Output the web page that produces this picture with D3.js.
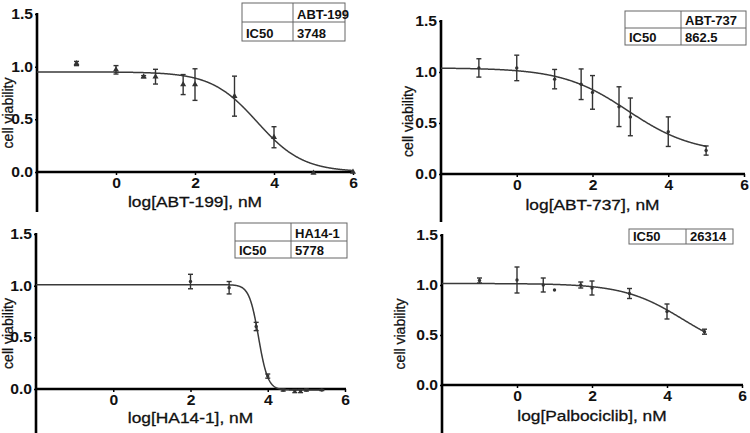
<!DOCTYPE html>
<html><head><meta charset="utf-8">
<script src="https://cdn.jsdelivr.net/npm/d3@7/dist/d3.min.js"></script>
<style>
body{margin:0;background:#fff}
svg{display:block}
text{font-family:"Liberation Sans",Arial,Helvetica,sans-serif;fill:#111}
</style>
</head><body>
<svg id="chart" width="750" height="433"></svg>
<script>
// ---------------- data ----------------
const xTicks = [0, 2, 4, 6];
const yTicks = [0, 0.5, 1.0, 1.5];
const yTickLabels = ["0.0", "0.5", "1.0", "1.5"];
const xDomain = [-2, 6];

// ABT-199
const abt199Dose = [-1, 0, 0.7, 1, 1.7, 2, 3, 4, 5, 6];
const abt199Mean = [1.03, 0.97, 0.905, 0.905, 0.83, 0.83, 0.72, 0.33, -0.01, 0.0];
const abt199Err  = [0.02, 0.04, 0.01, 0.07, 0.095, 0.15, 0.19, 0.10, 0, 0];
const abt199Fit  = [0.95, 0.0, 3.574, 0.75];   // top, bottom, logIC50, hill
const abt199Table = [["", "ABT-199"], ["IC50", "3748"]];

// ABT-737
const abt737Dose = [-1, 0, 1, 1.7, 2, 2.7, 3, 4, 5];
const abt737Mean = [1.04, 1.04, 0.93, 0.88, 0.80, 0.66, 0.56, 0.415, 0.23];
const abt737Err  = [0.09, 0.125, 0.095, 0.15, 0.165, 0.195, 0.185, 0.145, 0.045];
const abt737Fit  = [1.04, 0.2, 2.936, 0.5];
const abt737Table = [["", "ABT-737"], ["IC50", "862.5"]];

// HA14-1
const ha141Dose = [2, 3, 3.7, 4, 4.4, 4.7, 4.85, 5.0, 5.4];
const ha141Mean = [1.04, 0.98, 0.605, 0.125, -0.01, -0.02, -0.02, -0.01, -0.01];
const ha141Err  = [0.07, 0.06, 0.04, 0.02, 0.01, 0.015, 0.015, 0.01, 0.005];
const ha141Fit  = [1.01, -0.01, 3.762, 3.6];
const ha141Table = [["", "HA14-1"], ["IC50", "5778"]];

// Palbociclib
const palboDose = [-1, 0, 0.7, 1, 1.7, 2, 3, 4, 5];
const palboMean = [1.045, 1.05, 1.0, 0.95, 1.0, 0.97, 0.915, 0.735, 0.533];
const palboErr  = [0.025, 0.13, 0.07, 0, 0.03, 0.07, 0.05, 0.075, 0.025];
const palboFit  = [1.015, 0.3, 4.42, 0.55];
const palboTable = [["IC50", "26314"]];

// ---------------- layout ----------------
const panels = [
  {dose: abt199Dose, mean: abt199Mean, err: abt199Err, fit: abt199Fit, table: abt199Table,
   label: "log[ABT-199], nM", marker: "triangle", curveTo: 6,
   left: 37, right: 353, top: 14, zero: 172, axisBottom: 212, xLabelDy: 35, yLabelDx: 24,
   tab: {left: 242, top: 3, right: 345, split: 293, rows: [22, 41]}},
  {dose: abt737Dose, mean: abt737Mean, err: abt737Err, fit: abt737Fit, table: abt737Table,
   label: "log[ABT-737], nM", marker: "circle", curveTo: 5,
   left: 441, right: 744, top: 21, zero: 174, axisBottom: 222, xLabelDy: 36, yLabelDx: 28,
   tab: {left: 625, top: 11, right: 746, split: 681, rows: [28, 45]}},
  {dose: ha141Dose, mean: ha141Mean, err: ha141Err, fit: ha141Fit, table: ha141Table,
   label: "log[HA14-1], nM", marker: "circle", curveTo: 5.4,
   left: 36, right: 345, top: 234, zero: 389, axisBottom: 433, xLabelDy: 34, yLabelDx: 23,
   tab: {left: 235, top: 223, right: 347, split: 291, rows: [241, 258]}},
  {dose: palboDose, mean: palboMean, err: palboErr, fit: palboFit, table: palboTable,
   label: "log[Palbociclib], nM", marker: "circle", curveTo: 5,
   left: 442, right: 742, top: 235, zero: 385, axisBottom: 433, xLabelDy: 36, yLabelDx: 37,
   tab: {left: 629, top: 229, right: 733, split: 686, rows: [244]}}
];

const SX = 1.12; // horizontal stretch of the original lettering
const svg = d3.select("#chart");

function drawPanel(p) {
  const g = svg.append("g");
  const x = d3.scaleLinear().domain(xDomain).range([p.left, p.right]);
  const y = d3.scaleLinear().domain([0, 1.5]).range([p.zero, p.top]);

  // y axis
  const yAxis = d3.axisLeft(y).tickValues(yTicks)
    .tickFormat((d, i) => yTickLabels[i]).tickSize(2).tickPadding(1.6).tickSizeOuter(0);
  const ya = g.append("g").attr("transform", `translate(${p.left},0)`).call(yAxis);
  ya.select(".domain").remove();
  ya.selectAll(".tick line").attr("stroke", "#000").attr("stroke-width", 1.5);
  ya.selectAll(".tick text").attr("font-size", 14).attr("font-weight", "bold")
    .attr("fill", "#111").attr("font-family", null)
    .attr("transform", `scale(${SX},1)`);
  g.append("line").attr("x1", p.left).attr("x2", p.left)
    .attr("y1", y(1.5) - 1).attr("y2", p.axisBottom)
    .attr("stroke", "#000").attr("stroke-width", 2.6);

  // x axis
  const xAxis = d3.axisBottom(x).tickValues(xTicks).tickFormat(d3.format("d"))
    .tickSize(3).tickPadding(3).tickSizeOuter(0);
  const xa = g.append("g").attr("transform", `translate(0,${p.zero})`).call(xAxis);
  xa.select(".domain").remove();
  xa.selectAll(".tick line").attr("stroke", "#000").attr("stroke-width", 1.5);
  xa.selectAll(".tick text").attr("font-size", 14).attr("font-weight", "bold")
    .attr("fill", "#111").attr("font-family", null)
    .attr("transform", `scale(${SX},1)`);
  g.append("line").attr("x1", p.left).attr("x2", x(6) + 1)
    .attr("y1", p.zero).attr("y2", p.zero)
    .attr("stroke", "#000").attr("stroke-width", 2.6);

  // axis titles
  g.append("text")
    .attr("transform", `translate(${x(2)},${p.zero + p.xLabelDy}) scale(${SX},1)`)
    .attr("text-anchor", "middle").attr("font-size", 15.5)
    .attr("stroke", "#111").attr("stroke-width", 0.3).text(p.label);
  g.append("text")
    .attr("transform", `translate(${p.left - p.yLabelDx},${(y(1.5) + p.axisBottom) / 2}) rotate(-90)`)
    .attr("text-anchor", "middle").attr("font-size", 14)
    .attr("stroke", "#111").attr("stroke-width", 0.25).text("cell viability");

  // fitted curve (4-parameter logistic from the fit parameters)
  const [T, B, c, h] = p.fit;
  const xs = d3.range(xDomain[0], p.curveTo + 1e-9, 0.01);
  const line = d3.line()
    .x(d => x(d))
    .y(d => y(B + (T - B) / (1 + Math.pow(10, (d - c) * h))));
  g.append("path").datum(xs).attr("d", line)
    .attr("fill", "none").attr("stroke", "#3a3a3a").attr("stroke-width", 1.5);

  // error bars
  const idx = d3.range(p.dose.length);
  const eb = g.append("g").attr("stroke", "#333").attr("stroke-width", 1.4);
  idx.filter(i => p.err[i] > 0).forEach(i => {
    const cx = x(p.dose[i]);
    const y1 = y(p.mean[i] + p.err[i]), y2 = y(p.mean[i] - p.err[i]);
    eb.append("line").attr("x1", cx).attr("x2", cx).attr("y1", y1).attr("y2", y2);
    eb.append("line").attr("x1", cx - 2.5).attr("x2", cx + 2.5).attr("y1", y1).attr("y2", y1);
    eb.append("line").attr("x1", cx - 2.5).attr("x2", cx + 2.5).attr("y1", y2).attr("y2", y2);
  });

  // markers
  if (p.marker === "triangle") {
    const sym = d3.symbol().type(d3.symbolTriangle).size(16);
    g.append("g").selectAll("path").data(idx).join("path")
      .attr("d", sym).attr("fill", "#333")
      .attr("transform", i => `translate(${x(p.dose[i])},${y(p.mean[i])})`);
  } else {
    g.append("g").selectAll("circle").data(idx).join("circle")
      .attr("cx", i => x(p.dose[i])).attr("cy", i => y(p.mean[i]))
      .attr("r", 1.7).attr("fill", "#333");
  }

  // IC50 table
  const t = p.tab;
  const tg = g.append("g");
  tg.append("rect").attr("x", t.left).attr("y", t.top)
    .attr("width", t.right - t.left).attr("height", t.rows[t.rows.length - 1] - t.top)
    .attr("fill", "#fff").attr("stroke", "#666").attr("stroke-width", 1);
  tg.append("line").attr("x1", t.split).attr("x2", t.split)
    .attr("y1", t.top).attr("y2", t.rows[t.rows.length - 1])
    .attr("stroke", "#666").attr("stroke-width", 1);
  t.rows.slice(0, -1).forEach(r => {
    tg.append("line").attr("x1", t.left).attr("x2", t.right).attr("y1", r).attr("y2", r)
      .attr("stroke", "#666").attr("stroke-width", 1);
  });
  p.table.forEach((row, ri) => {
    const bottom = t.rows[ri];
    [t.left, t.split].forEach((cx, ci) => {
      if (!row[ci]) return;
      tg.append("text").attr("x", cx + 4).attr("y", bottom - 3.5)
        .attr("font-size", 13).attr("font-weight", "bold").text(row[ci]);
    });
  });
}

panels.forEach(drawPanel);
</script>
</body></html>
